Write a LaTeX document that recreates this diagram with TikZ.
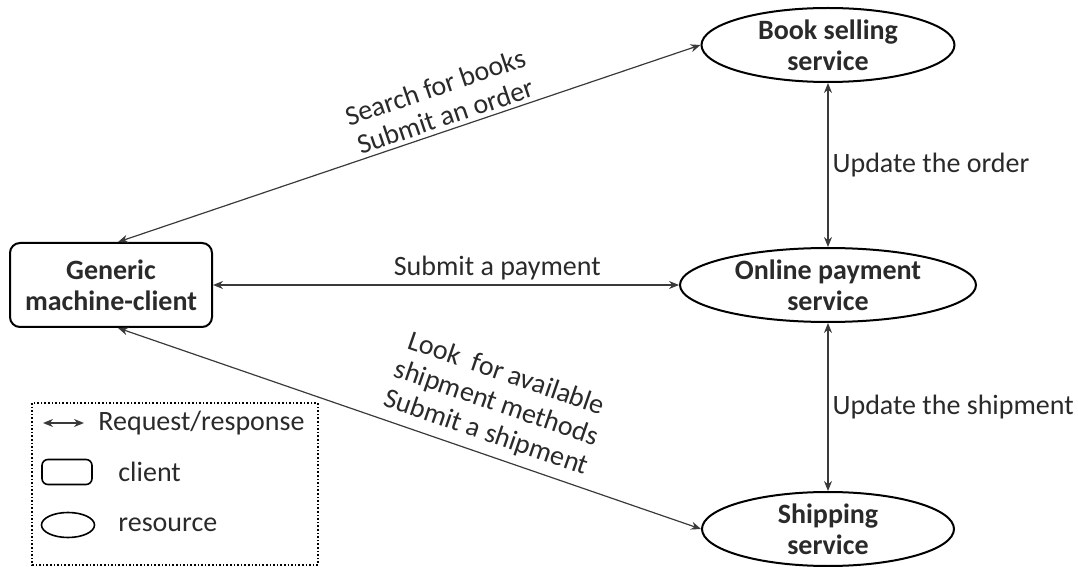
\documentclass[tikz,border=0pt]{standalone}
\usepackage{fontspec}
\setmainfont{Carlito}
\usepackage{tikz}
\usetikzlibrary{arrows.meta,shapes.geometric}
\definecolor{ink}{HTML}{2A2A2A}
\definecolor{wire}{HTML}{3A3A3A}
\newcommand{\lblsize}{\fontsize{14}{15.5}\selectfont}
\tikzset{
  clnt/.style={draw, rounded corners=5pt, line width=1pt, align=center, inner sep=0pt, font=\lblsize\bfseries, text=ink},
  res/.style ={draw, ellipse, line width=1pt, align=center, inner xsep=0pt, inner ysep=-1.5pt, font=\lblsize\bfseries, text=ink},
  ar/.style  ={{Stealth[length=5pt,width=4pt]}-{Stealth[length=5pt,width=4pt]}, line width=0.6pt, draw=wire},
  lbl/.style ={align=center, inner sep=2pt, font=\lblsize, text=ink},
}

\begin{document}
\begin{tikzpicture}[x=0.5pt,y=-0.5pt]
\useasboundingbox (0,0) rectangle (1078,567);
% client and resources
\node[clnt, minimum width=101pt, minimum height=42pt] (client) at (111,285) {Generic\\machine-client};
\node[res, minimum width=126.5pt, minimum height=37pt] (book) at (828,45) {Book selling\\service};
\node[res, minimum width=148pt, minimum height=37pt] (pay) at (828,285) {Online payment\\service};
\node[res, minimum width=126pt, minimum height=37pt] (ship) at (828,529) {Shipping\\service};
% request/response links
\draw[ar] ([xshift=3.5pt]client.north) -- (book.west)
  node[lbl, sloped, above, pos=0.57] {Search for books\\Submit an order};
\draw[ar] (client.east) -- (pay.west)
  node[lbl, above, pos=0.61] {Submit a payment};
\draw[ar] ([xshift=3.5pt]client.south) -- (ship.west)
  node[lbl, sloped, above, pos=0.62, yshift=2pt] {Look\ \ for available\\shipment methods\\Submit a shipment};
\draw[ar] (book.south) -- (pay.north) node[lbl, right, midway] {Update the order};
\draw[ar] (pay.south) -- (ship.north) node[lbl, right, midway] {Update the shipment};
% legend
\draw[densely dotted, line width=0.8pt] (32,403) rectangle (318,565);
\coordinate (kl) at (43,423);
\coordinate (kr) at (84,423);
\draw[ar, line width=0.9pt] (kl) -- (kr);
\node[lbl, anchor=west] (kresp) at (94,423) {Request/response};
\node[clnt, minimum width=25pt, minimum height=12.5pt, rounded corners=3pt, line width=0.8pt] (kclnt) at (67,472) {};
\node[lbl, anchor=west] (kclnttxt) at (114,472) {client};
\node[res, minimum width=26.5pt, minimum height=12.5pt, line width=0.8pt] (kres) at (68,525) {};
\node[lbl, anchor=west] (krestxt) at (114,525) {resource};
\end{tikzpicture}
\end{document}
